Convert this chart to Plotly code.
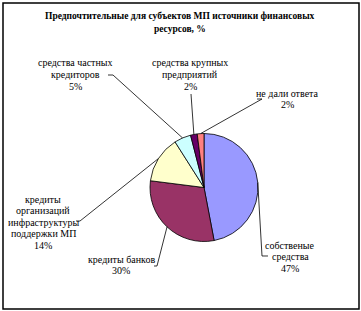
import math
import plotly.graph_objects as go

# ---- data ----
categories = ["собственые средства", "кредиты банков",
              "кредиты организаций инфраструктуры поддержки МП",
              "средства частных кредиторов", "средства крупных предприятий",
              "не дали ответа"]
values = [47, 30, 14, 5, 2, 2]
label_lines = [["собственые", "средства"],
               ["кредиты банков"],
               ["кредиты", "организаций", "инфраструктуры", "поддержки МП"],
               ["средства частных", "кредиторов"],
               ["средства крупных", "предприятий"],
               ["не дали ответа"]]
colors = ["#9999FF", "#993366", "#FFFFCC", "#CCFFFF", "#660066", "#FF8080"]
title_lines = ["Предпочтительные для субъектов МП источники финансовых", "ресурсов, %"]

# ---- layout (pixels) ----
W, H = 361, 311
CX, CY, R = 204, 187.5, 54
# label centre x, first line y
label_pos = [(290, 245), (121, 259), (43, 199), (75, 63), (190, 63), (287, 93)]
LS = 11.5
# leader elbows: (elbow, end) in px
leaders = [((262, 256), (268, 256)),
           ((157, 266), (154, 266)),
           ((80, 221), (76, 221)),
           ((113, 75), (108, 75)),
           ((191, 94), (191, 94)),
           ((262, 99), (257, 99))]

def px(x, y):
    return x / W, 1 - y / H

fig = go.Figure(go.Pie(
    labels=categories, values=values, sort=False, direction="clockwise",
    rotation=0, textinfo="none", hoverinfo="label+percent",
    marker=dict(colors=colors, line=dict(color="black", width=0.8)),
    domain=dict(x=[(CX - R) / W, (CX + R) / W], y=[1 - (CY + R) / H, 1 - (CY - R) / H]),
    showlegend=False))

annotations = []
font = dict(family="Liberation Serif", size=10, color="black")
for i, tl in enumerate(title_lines):
    x, y = px(180, 16 + i * 13)
    annotations.append(dict(x=x, y=y, xref="paper", yref="paper", text="<b>%s</b>" % tl,
                            showarrow=False, xanchor="center", yanchor="middle",
                            font=dict(family="Liberation Serif", size=9.5, color="black")))

shapes = []
total = sum(values)
cum = 0
for i, v in enumerate(values):
    mid = (cum + v / 2) / total * 2 * math.pi
    cum += v
    ex, ey = CX + R * math.sin(mid), CY - R * math.cos(mid)
    (bx, by), (tx, ty) = leaders[i]
    p0 = px(ex, ey); p1 = px(bx, by); p2 = px(tx, ty)
    shapes.append(dict(type="path", xref="paper", yref="paper",
                       path="M %f %f L %f %f L %f %f" % (p0[0], p0[1], p1[0], p1[1], p2[0], p2[1]),
                       line=dict(color="black", width=0.8)))
    lx, ly = label_pos[i]
    lines = label_lines[i] + ["%d%%" % round(v / total * 100)]
    for j, t in enumerate(lines):
        x, y = px(lx, ly + j * LS)
        annotations.append(dict(x=x, y=y, xref="paper", yref="paper", text=t,
                                showarrow=False, xanchor="center", yanchor="middle", font=font))

# outer frame
x0, y0 = px(3, 3); x1, y1 = px(359, 309)
shapes.append(dict(type="rect", xref="paper", yref="paper", x0=x0, y0=y1, x1=x1, y1=y0,
                   line=dict(color="black", width=1.5)))

fig.update_layout(width=W, height=H, autosize=False,
                  margin=dict(l=0, r=0, t=0, b=0),
                  paper_bgcolor="white", plot_bgcolor="white",
                  annotations=annotations, shapes=shapes)
fig.write_html("out.html")
